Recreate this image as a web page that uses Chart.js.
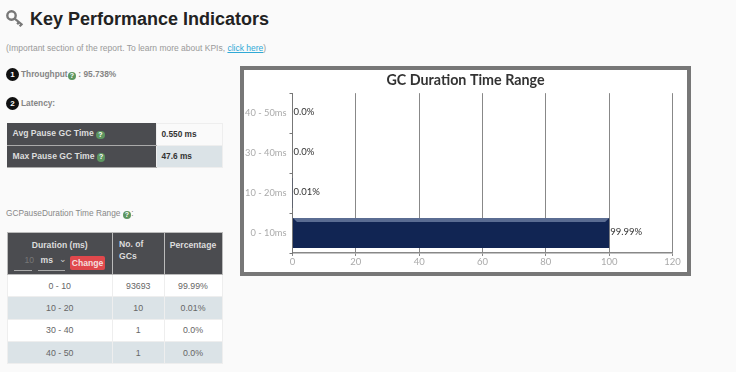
<!DOCTYPE html>
<html>
<head>
<meta charset="utf-8">
<title>Key Performance Indicators</title>
<script src="https://cdn.jsdelivr.net/npm/chart.js@4"></script>
<style>
  html, body { margin: 0; padding: 0; }
  body { width: 736px; height: 372px; overflow: hidden; position: relative; background: #fafafa; font-family: "Liberation Sans", Arial, sans-serif; color: #777; }
  .abs { position: absolute; white-space: nowrap; }
  h1 { margin: 0; left: 30px; top: 6px; font-size: 18px; line-height: 26px; color: #222; font-weight: bold; }
  .note { left: 6px; top: 42px; font-size: 8.5px; line-height: 12px; color: #999; }
  .note a { color: #2fa9d6; text-decoration: underline; }
  .lbl { font-size: 8.3px; font-weight: bold; color: #858585; line-height: 12px; }
  .num { width: 13px; height: 13px; border-radius: 50%; background: #111; color: #fff; font-size: 8px; font-weight: bold; line-height: 13px; text-align: center; }
  .help { display: inline-block; width: 8.5px; height: 8.5px; border-radius: 50%; background: #5d9660; color: #fff; font-size: 7px; font-weight: bold; line-height: 8.5px; text-align: center; vertical-align: -0.5px; }
  table { position: absolute; border-collapse: collapse; table-layout: fixed; font-size: 8.6px; }
  td, th { padding: 0; box-sizing: border-box; }
  #latency { left: 6.5px; top: 122.5px; width: 216px; }
  #latency th { background: #4b4c50; color: #ddd; text-align: left; padding-left: 6px; height: 22px; border-bottom: 1px solid #aaa; font-size: 8.6px; }
  #latency td { padding-left: 5px; color: #333; font-weight: bold; background: #fafafa; border: 1px solid #eee; font-size: 8.3px; }
  #latency tr:nth-child(2) td { background: #dbe3e7; }
  #ranges { left: 6.5px; top: 232px; width: 216px; }
  #ranges thead th { background: #4b4c50; color: #ddd; height: 42px; border: 1px solid #bbb; vertical-align: top; padding-top: 6px; font-size: 8.6px; line-height: 12px; }
  #ranges tbody td { height: 22.3px; text-align: center; color: #666; background: #fff; border: 1px solid #eee; font-size: 8.8px; }
  #ranges tbody tr:nth-child(even) td { background: #dbe3e7; }
  .ctrl { position: absolute; color: #ccc; font-size: 8.6px; font-weight: bold; }
  .change { position: absolute; left: 62.5px; top: 23px; width: 35px; height: 14px; line-height: 14px; border-radius: 2px; background: #e0484c; color: #f6dede; font-size: 8.6px; font-weight: bold; text-align: center; }
  #frame { position: absolute; left: 240px; top: 66px; width: 451px; height: 210px; box-sizing: border-box; border: 4px solid #777; background: #fff; }
  #frame canvas { display: block; }
</style>
</head>
<body>
<svg class="abs" style="left:6px;top:10px" width="18" height="18" viewBox="0 0 18 18">
  <circle cx="5.5" cy="5.5" r="4.2" fill="none" stroke="#777" stroke-width="2.4"/>
  <path d="M8.6 8.6 L16.5 15 M13 12 L11.2 14.2 M15.5 14.2 L13.7 16.4" stroke="#777" stroke-width="2.2" fill="none"/>
</svg>
<h1 class="abs">Key Performance Indicators</h1>
<div class="abs note">(Important section of the report. To learn more about KPIs, <a>click here</a>)</div>

<div class="abs num" style="left:6px;top:68px">1</div>
<div class="abs lbl" style="left:21px;top:68px">Throughput<span class="help">?</span> : 95.738%</div>
<div class="abs num" style="left:6px;top:97px">2</div>
<div class="abs lbl" style="left:21px;top:97px">Latency:</div>

<table id="latency">
  <colgroup><col style="width:149.5px"><col></colgroup>
  <tbody id="latencyRows"></tbody>
</table>

<div class="abs lbl" style="left:6px;top:207px;font-weight:normal;color:#888">GCPauseDuration Time Range <span class="help">?</span>:</div>

<table id="ranges">
  <colgroup><col style="width:105.5px"><col style="width:51.5px"><col></colgroup>
  <thead>
    <tr>
      <th style="position:relative">Duration (ms)
        <span class="ctrl" style="left:17px;top:21px;color:#777;font-weight:normal">10</span>
        <span class="ctrl" style="left:33px;top:21px;color:#ddd">ms</span>
        <span style="position:absolute;left:6.5px;top:37px;width:18px;height:1px;background:#aaa"></span>
        <span style="position:absolute;left:30.5px;top:37px;width:27px;height:1px;background:#aaa"></span>
        <span class="ctrl" style="left:51px;top:20px;font-weight:normal">&#8964;</span>
        <span class="change">Change</span>
      </th>
      <th style="text-align:left;padding-left:6px;padding-top:5px">No. of<br>GCs</th>
      <th>Percentage</th>
    </tr>
  </thead>
  <tbody id="rangeRows"></tbody>
</table>

<div id="frame"><canvas id="barChart" width="443" height="202"></canvas></div>

<script>
// valores
const categories = ['0 - 10ms', '10 - 20ms', '30 - 40ms', '40 - 50ms'];
const percentages = [99.99, 0.01, 0.0, 0.0];
const percentLabels = ['99.99%', '0.01%', '0.0%', '0.0%'];
const xTicks = [0, 20, 40, 60, 80, 100, 120];

const rangeNames = ['0 - 10', '10 - 20', '30 - 40', '40 - 50'];
const gcCounts = [93693, 10, 1, 1];

const latencyNames = ['Avg Pause GC Time', 'Max Pause GC Time'];
const latencyValues = ['0.550 ms', '47.6 ms'];

// tablas de la izquierda
document.getElementById('latencyRows').innerHTML = latencyNames.map((name, i) =>
    `<tr><th>${name} <span class="help">?</span></th><td>${latencyValues[i]}</td></tr>`).join('');
document.getElementById('rangeRows').innerHTML = rangeNames.map((name, i) =>
    `<tr><td>${name}</td><td>${gcCounts[i]}</td><td>${percentLabels[i]}</td></tr>`).join('');

const labelFont = 'Lato, "Open Sans", sans-serif';

// etiquetas de porcentaje y bisel superior de la barra
const barExtras = {
    id: 'barExtras',
    afterDatasetsDraw(chart) {
        const ctx = chart.ctx;
        const bars = chart.getDatasetMeta(0).data;
        ctx.save();
        bars.forEach((bar, i) => {
            if (percentages[i] >= 1) {
                const top = bar.y - bar.height / 2;
                ctx.fillStyle = '#5a6c92';
                ctx.beginPath();
                ctx.moveTo(bar.base, top);
                ctx.lineTo(bar.x, top);
                ctx.lineTo(bar.x - 4, top + 4);
                ctx.lineTo(bar.base + 4, top + 4);
                ctx.closePath();
                ctx.fill();
            }
            ctx.fillStyle = '#333';
            ctx.font = '9.5px ' + labelFont;
            ctx.textAlign = 'left';
            ctx.textBaseline = 'middle';
            ctx.fillText(percentLabels[i], bar.x + 1, bar.y - 1);
        });
        ctx.restore();
    }
};

const ctx = document.getElementById('barChart');
new Chart(ctx, {
    type: 'bar',
    data: {
        labels: categories,
        datasets: [{
            data: percentages,
            backgroundColor: '#112553',
            barPercentage: 0.75,
            categoryPercentage: 1
        }]
    },
    options: {
        indexAxis: 'y',
        responsive: false,
        animation: false,
        scales: {
            x: {
                min: 0,
                max: 120,
                afterBuildTicks(axis) { axis.ticks = xTicks.map(v => ({ value: v })); },
                afterFit(axis) { axis.height = 19; },
                border: { color: '#888', width: 1.5 },
                grid: { color: '#888', lineWidth: 1, tickLength: 3 },
                ticks: { color: '#aaa', padding: 0, font: { family: labelFont, size: 9.5 }, maxRotation: 0 }
            },
            y: {
                reverse: true,
                afterFit(axis) { axis.width = 48.5; },
                border: { color: '#777', width: 1 },
                grid: { drawOnChartArea: false, color: '#777', tickLength: 3 },
                ticks: { color: '#aaa', padding: 3, font: { family: labelFont, size: 9.3 } }
            },
            // eje vacio: deja el margen derecho sin mover el titulo
            yRight: {
                type: 'linear',
                axis: 'y',
                position: 'right',
                afterFit(axis) { axis.width = 14.5; },
                border: { display: false },
                grid: { display: false },
                ticks: { display: false }
            }
        },
        plugins: {
            legend: { display: false },
            tooltip: { enabled: false },
            title: {
                display: true,
                text: 'GC Duration Time Range',
                color: '#333',
                font: { family: labelFont, size: 14.3, weight: 'bold' },
                padding: { top: 1.5, bottom: 4.5 }
            }
        }
    },
    plugins: [barExtras]
});
</script>
</body>
</html>
